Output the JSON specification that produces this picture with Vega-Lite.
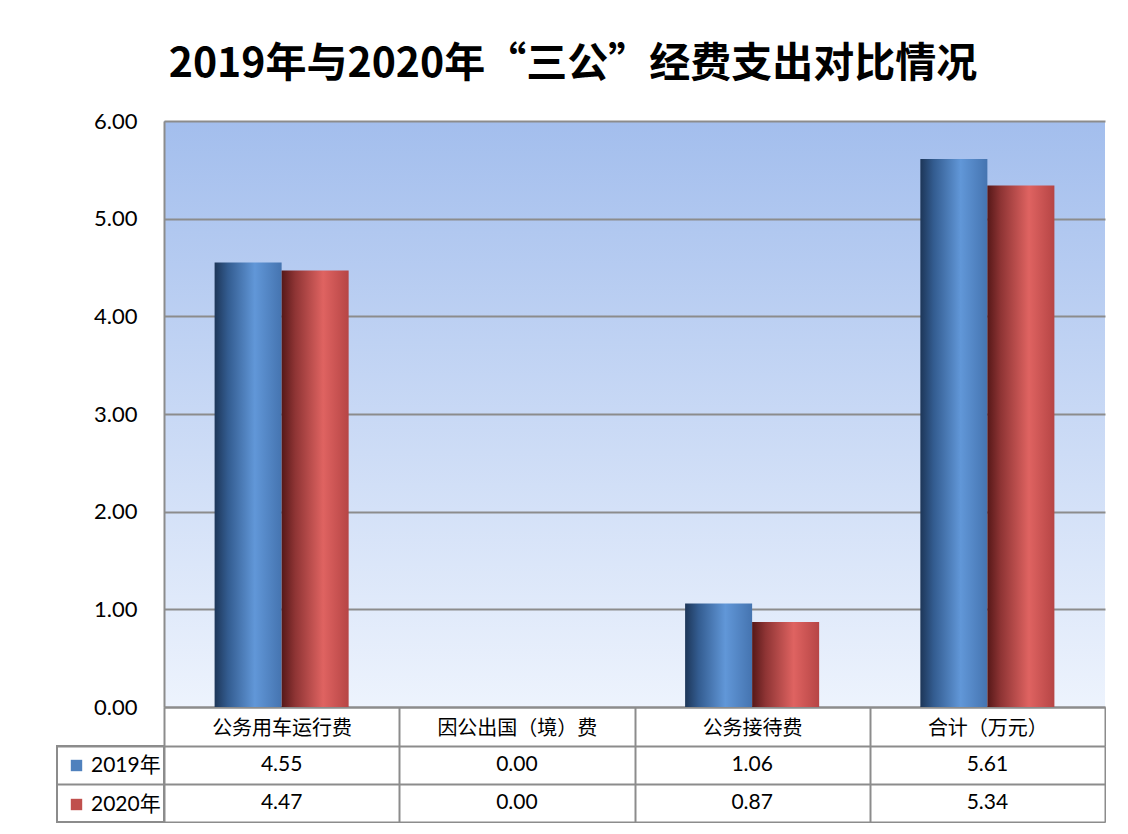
{
  "$schema": "https://vega.github.io/schema/vega-lite/v6.json",
  "background": "white",
  "padding": {"left": 56, "top": 44, "right": 0, "bottom": 0},
  "title": {
    "text": "2019年与2020年“三公”经费支出对比情况",
    "font": "Noto Sans CJK SC",
    "fontSize": 41,
    "fontWeight": "bold",
    "anchor": "middle",
    "offset": 24,
    "dx": -8,
    "color": "#000000"
  },
  "datasets": {
    "main": [
      {"category": "公务用车运行费", "year": "2019年", "value": 4.55},
      {"category": "因公出国（境）费", "year": "2019年", "value": 0.00},
      {"category": "公务接待费", "year": "2019年", "value": 1.06},
      {"category": "合计（万元）", "year": "2019年", "value": 5.61},
      {"category": "公务用车运行费", "year": "2020年", "value": 4.47},
      {"category": "因公出国（境）费", "year": "2020年", "value": 0.00},
      {"category": "公务接待费", "year": "2020年", "value": 0.87},
      {"category": "合计（万元）", "year": "2020年", "value": 5.34}
    ]
  },
  "columns": 2,
  "spacing": {"row": 39, "column": 0},
  "bounds": "flush",
  "resolve": {"scale": {"color": "independent"}, "legend": {"color": "independent"}},
  "concat": [
    {
      "width": 107,
      "height": 586,
      "data": {"values": [{}]},
      "mark": {"type": "text", "text": ""},
      "encoding": {}
    },
    {
      "width": 941,
      "height": 586,
      "data": {"name": "main"},
      "view": {
        "stroke": null,
        "fill": {
          "gradient": "linear", "x1": 0, "y1": 0, "x2": 0, "y2": 1,
          "stops": [
            {"offset": 0, "color": "#a3beed"},
            {"offset": 1, "color": "#edf3fd"}
          ]
        }
      },
      "encoding": {
        "x": {
          "field": "category", "type": "nominal",
          "sort": ["公务用车运行费", "因公出国（境）费", "公务接待费", "合计（万元）"],
          "scale": {"paddingInner": 0, "paddingOuter": 0},
          "axis": {
            "title": null, "orient": "bottom",
            "domainColor": "#8c8c8c", "domainWidth": 2,
            "ticks": true, "tickBand": "extent", "tickSize": 39, "tickColor": "#8c8c8c", "tickWidth": 2,
            "labelAngle": 0, "labelFont": "Noto Sans CJK SC", "labelFontSize": 20, "labelColor": "#000000",
            "labelBaseline": "middle", "labelPadding": -18, "grid": false
          }
        },
        "xOffset": {
          "field": "year", "type": "nominal",
          "scale": {"paddingInner": 0, "paddingOuter": 0.755}
        },
        "y": {
          "field": "value", "type": "quantitative",
          "scale": {"domain": [0, 6], "nice": false},
          "axis": {
            "title": null, "values": [0, 1, 2, 3, 4, 5, 6], "format": ".2f",
            "grid": true, "gridColor": "#8c8c8c", "gridWidth": 2,
            "ticks": false, "domainColor": "#8c8c8c", "domainWidth": 2,
            "labelFont": "Lato", "labelFontSize": 22, "labelColor": "#000000", "labelPadding": 27
          }
        }
      },
      "layer": [
        {
          "transform": [{"filter": "datum.year == '2019年'"}],
          "mark": {
            "type": "bar",
            "fill": {
              "gradient": "linear", "x1": 0, "y1": 0, "x2": 1, "y2": 0,
              "stops": [
                {"offset": 0, "color": "#1d3658"},
                {"offset": 0.2, "color": "#335c90"},
                {"offset": 0.6, "color": "#6197d8"},
                {"offset": 1, "color": "#4574b0"}
              ]
            }
          }
        },
        {
          "transform": [{"filter": "datum.year == '2020年'"}],
          "mark": {
            "type": "bar",
            "fill": {
              "gradient": "linear", "x1": 0, "y1": 0, "x2": 1, "y2": 0,
              "stops": [
                {"offset": 0, "color": "#561818"},
                {"offset": 0.2, "color": "#8e3434"},
                {"offset": 0.62, "color": "#df6361"},
                {"offset": 1, "color": "#b64545"}
              ]
            }
          }
        }
      ]
    },
    {
      "width": 107,
      "height": 76,
      "data": {"name": "main"},
      "view": {"stroke": "#8c8c8c", "strokeWidth": 2},
      "mark": {"type": "text", "text": ""},
      "encoding": {
        "y": {
          "field": "year", "type": "nominal",
          "scale": {"type": "band", "paddingInner": 0, "paddingOuter": 0},
          "axis": {
            "title": null, "labels": false, "ticks": false, "domain": false,
            "grid": true, "tickBand": "extent", "gridColor": "#8c8c8c", "gridWidth": 2
          }
        },
        "color": {
          "field": "year", "type": "nominal",
          "scale": {"domain": ["2019年", "2020年"], "range": ["#4f81bd", "#c0504d"]},
          "legend": {
            "orient": "none", "legendX": 9, "legendY": 9, "title": null,
            "symbolType": "square", "symbolSize": 130, "symbolStrokeWidth": 0,
            "labelFont": "Lato, Noto Sans CJK SC", "labelFontSize": 21, "labelColor": "#000000",
            "rowPadding": 17, "labelOffset": 4
          }
        }
      }
    },
    {
      "width": 941,
      "height": 76,
      "data": {"name": "main"},
      "mark": {"type": "text", "font": "Lato", "fontSize": 21, "color": "#000000"},
      "encoding": {
        "x": {
          "field": "category", "type": "nominal",
          "sort": ["公务用车运行费", "因公出国（境）费", "公务接待费", "合计（万元）"],
          "scale": {"type": "band", "paddingInner": 0, "paddingOuter": 0},
          "axis": {
            "title": null, "orient": "top", "labels": false, "ticks": false, "domain": false,
            "grid": true, "tickBand": "extent", "gridColor": "#8c8c8c", "gridWidth": 2
          }
        },
        "y": {
          "field": "year", "type": "nominal",
          "scale": {"type": "band", "paddingInner": 0, "paddingOuter": 0},
          "axis": {
            "title": null, "labels": false, "ticks": false, "domain": false,
            "grid": true, "tickBand": "extent", "gridColor": "#8c8c8c", "gridWidth": 2
          }
        },
        "text": {"field": "value", "type": "quantitative", "format": ".2f"}
      }
    }
  ],
  "config": {
    "view": {"stroke": null}
  }
}
